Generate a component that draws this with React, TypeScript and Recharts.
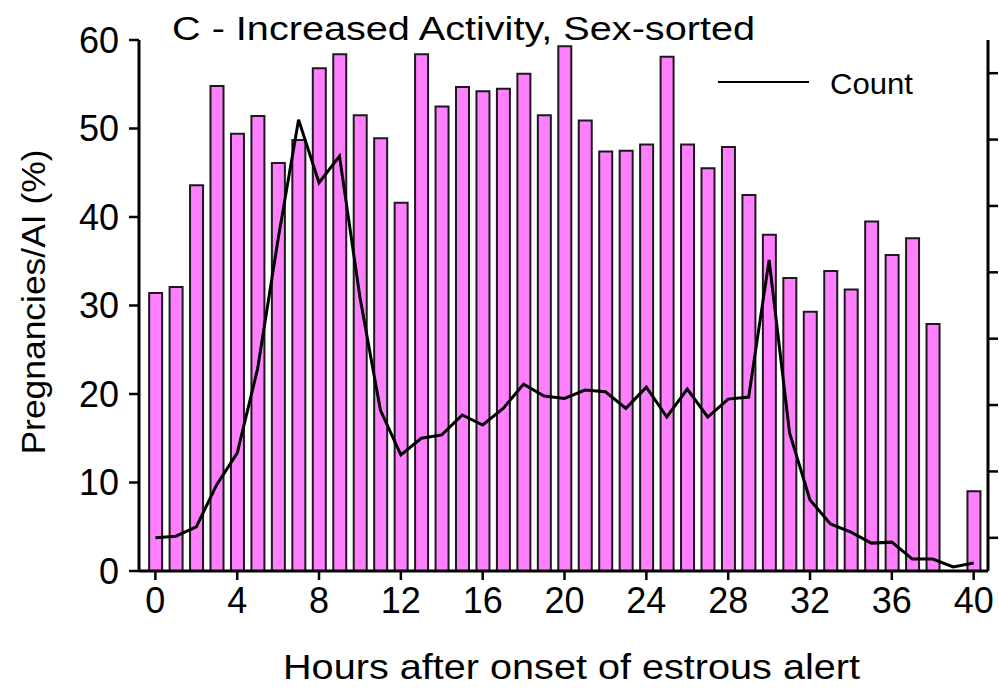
import {
	Bar,
	ComposedChart,
	Label,
	Line,
	XAxis,
	YAxis,
} from "recharts";

const hours = [
	0, 1, 2, 3, 4, 5, 6, 7, 8, 9, 10, 11, 12, 13, 14, 15, 16, 17, 18, 19, 20,
	21, 22, 23, 24, 25, 26, 27, 28, 29, 30, 31, 32, 33, 34, 35, 36, 37, 38, 39,
	40,
];

// pregnancies per AI (%), left axis; no bar at hour 39
const pregPerAI: (number | null)[] = [
	31.4, 32.1, 43.6, 54.8, 49.4, 51.4, 46.1, 48.7, 56.8, 58.4, 51.5, 48.9,
	41.6, 58.4, 52.5, 54.7, 54.2, 54.5, 56.2, 51.5, 59.3, 50.9, 47.4, 47.5,
	48.2, 58.1, 48.2, 45.5, 47.9, 42.5, 38.0, 33.1, 29.3, 33.9, 31.8, 39.5,
	35.7, 37.6, 27.9, null, 9.0,
];

// count, right axis (no labels in the figure)
const counts = [
	1.0, 1.05, 1.33, 2.6, 3.55, 6.1, 10.0, 13.6, 11.7, 12.5, 8.25, 4.85, 3.5,
	4.0, 4.1, 4.7, 4.4, 4.9, 5.63, 5.27, 5.2, 5.45, 5.4, 4.9, 5.54, 4.64, 5.48,
	4.64, 5.18, 5.24, 9.37, 4.16, 2.14, 1.42, 1.17, 0.84, 0.87, 0.36, 0.36,
	0.12, 0.24,
];

const xTicks = [0, 4, 8, 12, 16, 20, 24, 28, 32, 36, 40];
const leftTicks = [0, 10, 20, 30, 40, 50, 60];
const rightTicks = [1, 3, 5, 7, 9, 11, 13, 15];

const FONT = '"Liberation Sans", Arial, sans-serif';

const data = hours.map((h, i) => ({
	hour: h,
	rate: pregPerAI[i],
	count: counts[i],
}));

export default function App() {
	return (
		<div
			style={{
				position: "absolute",
				left: 0,
				top: 0,
				width: 999,
				height: 693,
				background: "#fff",
				fontFamily: FONT,
			}}
		>
			<ComposedChart
				width={999}
				height={693}
				data={data}
				margin={{ top: 40, right: 0, bottom: 0, left: 0 }}
			>
				<XAxis
					dataKey="hour"
					type="number"
					domain={[-0.8, 40.7]}
					ticks={xTicks}
					allowDataOverflow
					height={122}
					tickSize={9}
					tickMargin={7}
					axisLine={{ stroke: "#000", strokeWidth: 3 }}
					tickLine={{ stroke: "#000", strokeWidth: 2.5 }}
					tick={{ fill: "#000", fontSize: 36, fontFamily: FONT }}
				>
					<Label
						content={({ viewBox }: any) => (
							<text
								x={viewBox.x + viewBox.width / 2 + 8}
								y={679}
								textAnchor="middle"
								fontSize={35}
								fontFamily={FONT}
								fill="#000"
								textLength={577}
								lengthAdjust="spacingAndGlyphs"
							>
								Hours after onset of estrous alert
							</text>
						)}
					/>
				</XAxis>
				<YAxis
					yAxisId="left"
					domain={[0, 60]}
					ticks={leftTicks}
					width={139}
					tickSize={10}
					tickMargin={10}
					axisLine={{ stroke: "#000", strokeWidth: 3 }}
					tickLine={{ stroke: "#000", strokeWidth: 2.5 }}
					tick={{ fill: "#000", fontSize: 36, fontFamily: FONT }}
				>
					<Label
						content={() => (
							<text
								x={0}
								y={0}
								transform="translate(45, 302) rotate(-90)"
								textAnchor="middle"
								fontSize={33}
								fontFamily={FONT}
								fill="#000"
								textLength={305}
								lengthAdjust="spacingAndGlyphs"
							>
								Pregnancies/AI (%)
							</text>
						)}
					/>
				</YAxis>
				<YAxis
					yAxisId="right"
					orientation="right"
					domain={[0, 16]}
					ticks={rightTicks}
					width={11}
					tickSize={10}
					tickFormatter={() => ""}
					axisLine={{ stroke: "#000", strokeWidth: 3 }}
					tickLine={{ stroke: "#000", strokeWidth: 2.5 }}
				/>
				<Bar
					yAxisId="left"
					dataKey="rate"
					barSize={13}
					fill="#ff80ff"
					stroke="#1a1a1a"
					strokeWidth={2}
					isAnimationActive={false}
				/>
				<Line
					yAxisId="right"
					dataKey="count"
					type="linear"
					stroke="#000"
					strokeWidth={3}
					dot={false}
					isAnimationActive={false}
				/>
			</ComposedChart>
			<svg
				width={999}
				height={693}
				style={{ position: "absolute", left: 0, top: 0, pointerEvents: "none" }}
			>
				<text
					x={172}
					y={40}
					fontSize={33}
					fontFamily={FONT}
					fill="#000"
					textLength={583}
					lengthAdjust="spacingAndGlyphs"
				>
					C - Increased Activity, Sex-sorted
				</text>
				<line x1={718} y1={82} x2={809} y2={82} stroke="#000" strokeWidth={2} />
				<text
					x={830}
					y={94}
					fontSize={29}
					fontFamily={FONT}
					fill="#000"
					textLength={83}
					lengthAdjust="spacingAndGlyphs"
				>
					Count
				</text>
			</svg>
		</div>
	);
}
